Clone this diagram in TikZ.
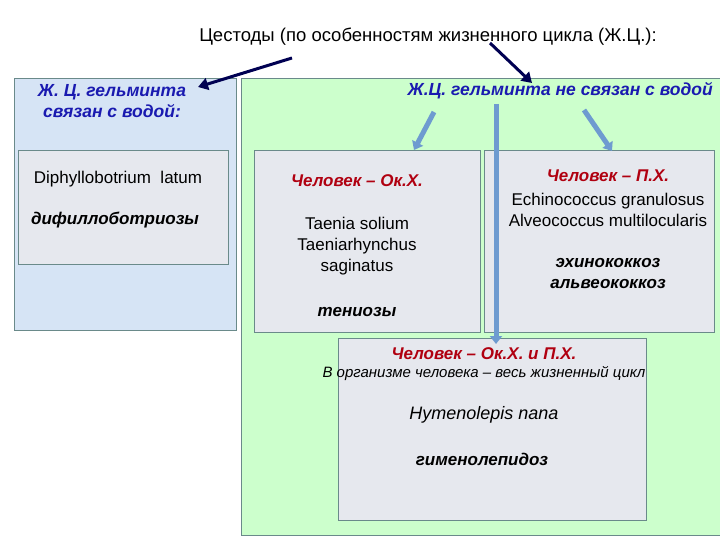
\documentclass[tikz,border=0pt]{standalone}
\usepackage{fontspec}
\setmainfont{Liberation Sans}
\usetikzlibrary{arrows.meta}
\definecolor{hblue}{HTML}{1A1AB0}
\definecolor{hred}{HTML}{B00010}
\definecolor{pblue}{HTML}{D6E4F5}
\definecolor{pgreen}{HTML}{CCFFCC}
\definecolor{boxg}{HTML}{E6E8EE}
\definecolor{edge}{HTML}{6A8A8A}
\definecolor{barr}{HTML}{6E9BD0}
\tikzset{
 panel/.style={draw=edge, line width=0.8pt},
 ibox/.style={panel, fill=boxg},
 head/.style={font=\fontsize{17.5}{21}\selectfont\bfseries\itshape, text=hblue, align=center},
 rhead/.style={font=\fontsize{17}{20}\selectfont\bfseries\itshape, text=hred},
 txt/.style={font=\fontsize{17}{21}\selectfont, align=center},
 dis/.style={font=\fontsize{17}{21}\selectfont\bfseries\itshape},
 darr/.style={draw=black!20!blue!40!black, line width=3pt, -{Triangle[length=10pt,width=12pt]}},
 barrow/.style={draw=barr, line width=5pt, -{Triangle[length=8pt,width=12pt]}}
}
\begin{document}
\begin{tikzpicture}[x=1pt,y=-1pt]
\useasboundingbox (0,0) rectangle (720,540);
\fill[white] (0,0) rectangle (720,540);
\draw[panel, fill=pblue] (14,78) rectangle (236,330);
\draw[panel, fill=pgreen] (241,78) rectangle (722,535);
\draw[ibox] (18,150) rectangle (228,264);
\draw[ibox] (254,150) rectangle (480,332);
\draw[ibox] (484,150) rectangle (714,332);
\draw[ibox] (338,338) rectangle (646,520);
\node[font=\fontsize{18.5}{22}\selectfont] (title) at (428,37) {Цестоды (по особенностям жизненного цикла (Ж.Ц.):};
\node[head] (lh) at (112,101) {Ж. Ц. гельминта\\связан с водой:};
\node[head, anchor=west] (rh) at (404,91) {Ж.Ц. гельминта не связан с водой};
\coordinate (a1s) at (292,58); \coordinate (a1e) at (198,87);
\coordinate (a2s) at (490,43); \coordinate (a2e) at (532,83);
\draw[darr] (a1s) -- (a1e);
\draw[darr] (a2s) -- (a2e);
\coordinate (b1s) at (434,112); \coordinate (b1e) at (414,150);
\coordinate (b2s) at (496,104); \coordinate (b2e) at (496,344);
\coordinate (b3s) at (584,110); \coordinate (b3e) at (612,151);
\draw[barrow] (b1s) -- (b1e);
\draw[barrow] (b2s) -- (b2e);
\draw[barrow] (b3s) -- (b3e);
\node[txt] (dl) at (118,179) {Diphyllobotrium\ \ latum};
\node[dis] (dd) at (115,220) {дифиллоботриозы};
\node[rhead] (m1) at (357,181) {Человек – Ок.Х.};
\node[txt] (m2) at (357,246) {Taenia solium\\Taeniarhynchus\\saginatus};
\node[dis] (m3) at (357,312) {тениозы};
\node[rhead] (r1) at (608,176) {Человек – П.Х.};
\node[txt] (r2) at (608,210) {Echinococcus granulosus\\Alveococcus multilocularis};
\node[dis, align=center] (r3) at (608,274) {эхинококкоз\\альвеококкоз};
\node[rhead] (c1) at (484,354) {Человек – Ок.Х. и П.Х.};
\node[font=\fontsize{15}{18}\selectfont\itshape] (c2) at (484,374) {В организме человека – весь жизненный цикл};
\node[font=\fontsize{18}{21}\selectfont\itshape] (c3) at (484,415) {Hymenolepis nana};
\node[dis] (c4) at (482,459) {гименолепидоз};
\end{tikzpicture}
\end{document}
